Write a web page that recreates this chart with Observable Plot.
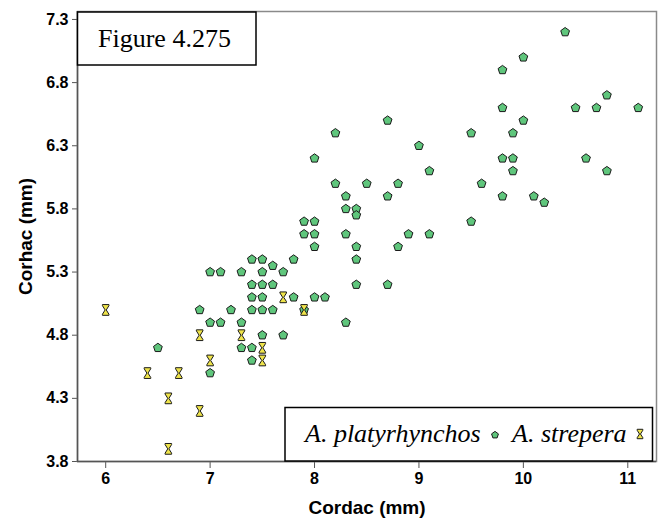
<!DOCTYPE html>
<html><head><meta charset="utf-8">
<script src="https://cdn.jsdelivr.net/npm/d3@7"></script>
<script src="https://cdn.jsdelivr.net/npm/@observablehq/plot@0.6"></script>
<style>
body{margin:0;background:#fff;}
#chart{width:664px;height:530px;}
#chart svg g[aria-label="x-axis tick"] path, #chart svg g[aria-label="y-axis tick"] path{stroke:#555;}
</style></head><body><div id="chart"></div>
<script>
// A. platyrhynchos (pentagons)
const platyCordac = [7.4,7.5,7.8,7.6, 7.0,7.1,7.3,7.5,7.7, 7.4,7.5,7.6, 7.4,7.5,7.8,8.0,8.1,
  6.9,7.2,7.4,7.5,7.6,7.9, 7.0,7.1,7.3,8.3, 7.5,7.7, 6.5,7.3,7.4, 7.4, 7.0,
  8.7,8.2,9.0,8.0,9.1,8.2,8.5,8.8,8.3,8.7,8.3,8.4,8.4,7.9,8.0,9.5,7.9,8.0,8.3,8.9,9.1,8.0,8.4,8.8,8.4,8.4,8.7,
  10.4,10.0,9.8,10.8,9.8,10.5,10.7,11.1,10.0,9.5,9.9,9.8,9.9,10.6,9.9,10.8,9.6,9.8,10.1,10.2];
const platyCorhac = [5.4,5.4,5.4,5.35, 5.3,5.3,5.3,5.3,5.3, 5.2,5.2,5.2, 5.1,5.1,5.1,5.1,5.1,
  5.0,5.0,5.0,5.0,5.0,5.0, 4.9,4.9,4.9,4.9, 4.8,4.8, 4.7,4.7,4.7, 4.6, 4.5,
  6.5,6.4,6.3,6.2,6.1,6.0,6.0,6.0,5.9,5.9,5.8,5.8,5.75,5.7,5.7,5.7,5.6,5.6,5.6,5.6,5.6,5.5,5.5,5.5,5.4,5.2,5.2,
  7.2,7.0,6.9,6.7,6.6,6.6,6.6,6.6,6.5,6.4,6.4,6.2,6.2,6.2,6.1,6.1,6.0,5.9,5.9,5.85];
// A. strepera (hourglasses)
const strepCordac = [6.0,6.9,7.3,7.5,7.5,7.0,6.4,6.7,6.6,6.9,6.6,7.7,7.9];
const strepCorhac = [5.0,4.8,4.8,4.7,4.6,4.6,4.5,4.5,4.3,4.2,3.9,5.1,5.0];
const seriesNames = ["A. platyrhynchos", "A. strepera"];
const xTicks = [6,7,8,9,10,11];
const yTicks = [3.8,4.3,4.8,5.3,5.8,6.3,6.8,7.3];
const figureLabel = "Figure 4.275";
const xTitle = "Cordac (mm)";
const yTitle = "Corhac (mm)";

const platy = platyCordac.map((x,i)=>({x, y: platyCorhac[i], s: seriesNames[0]}));
const strep = strepCordac.map((x,i)=>({x, y: strepCorhac[i], s: seriesNames[1]}));

const pentagon = {
  draw(ctx, size) {
    const r = Math.sqrt(size/Math.PI);
    for (let i = 0; i < 5; i++) {
      const a = -Math.PI/2 + i*2*Math.PI/5;
      const px = r*Math.cos(a), py = r*Math.sin(a);
      if (i === 0) ctx.moveTo(px, py); else ctx.lineTo(px, py);
    }
    ctx.closePath();
  }
};
const hourglass = {
  draw(ctx, size) {
    const r = Math.sqrt(size/Math.PI);
    const w = r*0.68, h = r*1.12, b = h*0.2, n = r*0.12;
    ctx.moveTo(-w,-h); ctx.lineTo(w,-h); ctx.lineTo(w,-h+b); ctx.lineTo(n,0);
    ctx.lineTo(w,h-b); ctx.lineTo(w,h); ctx.lineTo(-w,h); ctx.lineTo(-w,h-b);
    ctx.lineTo(-n,0); ctx.lineTo(-w,-h+b); ctx.closePath();
  }
};
const green = "#5fc67c", yellow = "#eee34a";
const xDom = [5.73, 11.275], yDom = [3.8, 7.363];

const chart = Plot.plot({
  width: 664, height: 530,
  marginLeft: 77, marginRight: 8, marginTop: 11, marginBottom: 69,
  style: {fontFamily: "Arial, 'Liberation Sans', sans-serif", fontSize: "16px", fontWeight: "bold", color: "#000", background: "#fff"},
  x: {domain: xDom, ticks: xTicks, tickSize: 7, tickPadding: 4, label: null, tickFormat: d => String(d)},
  y: {domain: yDom, ticks: yTicks, tickSize: 5, tickPadding: 4, label: null, tickFormat: d => d.toFixed(1)},
  marks: [
    Plot.frame({stroke: "#8a8a8a", strokeWidth: 1.5}),
    Plot.ruleX([xDom[0]], {stroke: "#555", strokeWidth: 1.5}),
    Plot.ruleY([yDom[0]], {stroke: "#555", strokeWidth: 1.5}),
    Plot.dot(platy, {x: "x", y: "y", symbol: pentagon, r: 4.6, fill: green, stroke: "#1a1a1a", strokeWidth: 1, fillOpacity: 1}),
    Plot.dot(strep, {x: "x", y: "y", symbol: hourglass, r: 4.8, fill: yellow, stroke: "#1a1a1a", strokeWidth: 1, fillOpacity: 1}),
    Plot.text([xTitle], {text: d => d, frameAnchor: "bottom", dy: 46, fontSize: 19, fontWeight: "bold", lineAnchor: "middle", textAnchor: "middle", fill: "#000"}),
    Plot.text([yTitle], {text: d => d, frameAnchor: "left", dx: -52, rotate: -90, fontSize: 19, fontWeight: "bold", lineAnchor: "middle", textAnchor: "middle", fill: "#000"})
  ]
});
document.getElementById("chart").appendChild(chart);

// annotation boxes
const svg = d3.select(chart);
const serif = "'Times New Roman', 'Liberation Serif', serif";
const fig = svg.append("g").attr("text-anchor", "start");
fig.append("rect").attr("x", 77.5).attr("y", 12).attr("width", 178.5).attr("height", 53)
  .attr("fill", "#fff").attr("stroke", "#000").attr("stroke-width", 1.5);
fig.append("text").attr("x", 98).attr("y", 47).attr("text-anchor", "start").text(figureLabel)
  .attr("font-family", serif).attr("font-size", 26)
  .attr("font-weight", "normal").attr("fill", "#000");

const leg = svg.append("g").attr("text-anchor", "start");
leg.append("rect").attr("x", 285).attr("y", 407.5).attr("width", 367.5).attr("height", 53.5)
  .attr("fill", "#fff").attr("stroke", "#000").attr("stroke-width", 1.5);
leg.append("text").attr("x", 305).attr("y", 442).attr("text-anchor", "start").text(seriesNames[0])
  .attr("font-family", serif).attr("font-size", 26).attr("font-style", "italic").attr("font-weight", "normal").attr("fill", "#000");
leg.append("path").attr("transform", "translate(495,435)")
  .attr("d", d3.symbol().type(pentagon).size(Math.PI*3.6*3.6)())
  .attr("fill", green).attr("stroke", "#1a1a1a").attr("stroke-width", 1);
leg.append("text").attr("x", 512).attr("y", 442).attr("text-anchor", "start").text(seriesNames[1])
  .attr("font-family", serif).attr("font-size", 26).attr("font-style", "italic").attr("font-weight", "normal").attr("fill", "#000");
leg.append("path").attr("transform", "translate(640,434)")
  .attr("d", d3.symbol().type(hourglass).size(Math.PI*4.2*4.2)())
  .attr("fill", yellow).attr("stroke", "#1a1a1a").attr("stroke-width", 1);
</script></body></html>
